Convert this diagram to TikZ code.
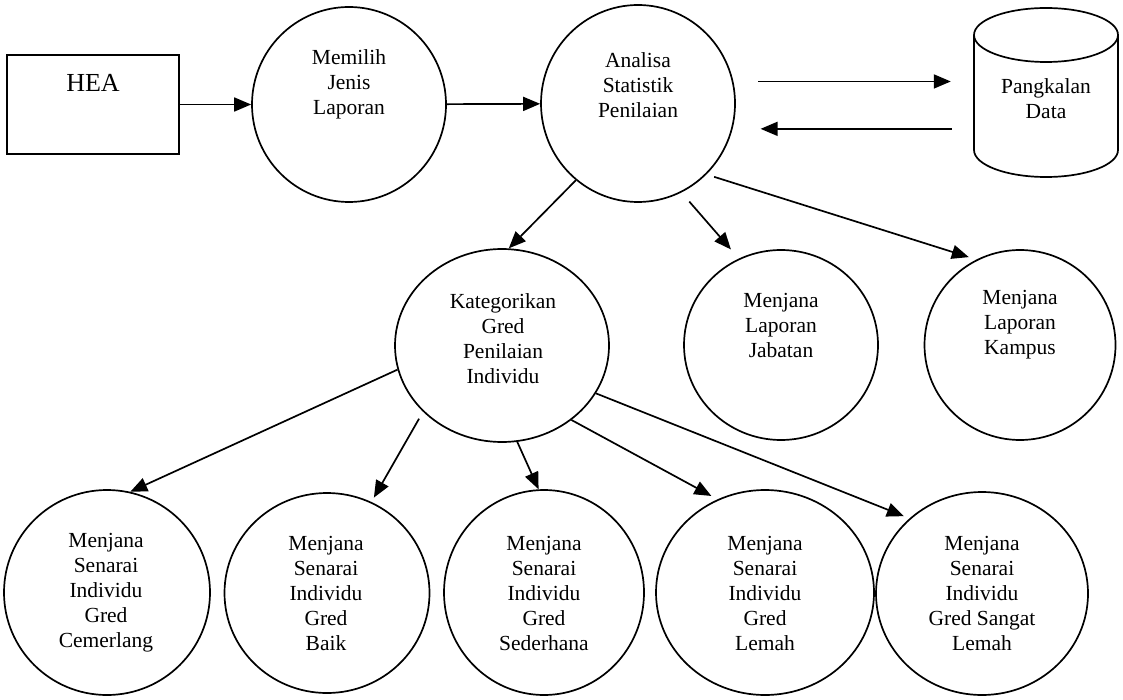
\documentclass[tikz,border=0pt]{standalone}
\usepackage{fontspec}
\setmainfont{Liberation Serif}
\usetikzlibrary{shapes.geometric,arrows.meta}
\begin{document}
\begin{tikzpicture}[x=1pt,y=-1pt,
  line/.style={line width=1.7pt},
  bub/.style={ellipse, draw, line width=1.7pt, inner sep=0pt},
  txt/.style={align=center, inner sep=0pt, font=\fontsize{21.5}{25}\selectfont},
  arr/.style={line width=1.7pt, -{Triangle[length=17pt,width=14pt]}}]
\useasboundingbox (0,0) rectangle (1123,700);

% HEA
\node[draw, line width=1.7pt, minimum width=172pt, minimum height=99pt, inner sep=0pt] (hea) at (93,104.5) {};
\node[inner sep=0pt, font=\fontsize{26}{30}\selectfont] (heat) at (93,83) {HEA};

% top row
\node[bub, minimum width=194pt, minimum height=195pt] (mem) at (349,104.5) {};
\node[txt] (memt) at (349,84.5) {Memilih\\Jenis\\Laporan};
\node[bub, minimum width=194pt, minimum height=197pt] (ana) at (638,103.5) {};
\node[txt] (anat) at (638,85) {Analisa\\Statistik\\Penilaian};

% database cylinder
\draw[line] (974,35) -- (974,150) arc[start angle=180,end angle=360,x radius=72pt,y radius=27pt] -- (1118,35);
\draw[line] (1046,35) ellipse [x radius=72pt, y radius=27pt];
\node[minimum width=144pt, minimum height=169pt, inner sep=0pt] (db) at (1046,92.5) {};
\node[txt] (dbt) at (1046,99) {Pangkalan\\Data};

% middle row
\node[bub, minimum width=214pt, minimum height=193pt] (kat) at (502,345.5) {};
\node[txt] (katt) at (503,338.5) {Kategorikan\\Gred\\Penilaian\\Individu};
\node[bub, minimum width=194pt, minimum height=190pt] (jab) at (781,345) {};
\node[txt] (jabt) at (781,325) {Menjana\\Laporan\\Jabatan};
\node[bub, minimum width=191pt, minimum height=190pt] (kam) at (1020,345) {};
\node[txt] (kamt) at (1020,325) {Menjana\\Laporan\\Kampus};

% bottom row
\node[bub, minimum width=206pt, minimum height=205pt] (cem) at (107,592.5) {};
\node[txt] (cemt) at (106,593) {Menjana\\Senarai\\Individu\\Gred\\Cemerlang};
\node[bub, minimum width=205pt, minimum height=200pt] (bai) at (327,593) {};
\node[txt] (bait) at (326,593) {Menjana\\Senarai\\Individu\\Gred\\Baik};
\node[bub, minimum width=200pt, minimum height=205pt] (sed) at (544,592.5) {};
\node[txt] (sedt) at (544,593) {Menjana\\Senarai\\Individu\\Gred\\Sederhana};
\node[bub, minimum width=218pt, minimum height=205pt] (lem) at (765,592.5) {};
\node[txt] (lemt) at (765,593) {Menjana\\Senarai\\Individu\\Gred\\Lemah};
\node[bub, minimum width=212pt, minimum height=203pt] (san) at (982,593.5) {};
\node[txt] (sant) at (982,593) {Menjana\\Senarai\\Individu\\Gred Sangat\\Lemah};

% connectors
\draw[arr] (hea.east) -- (mem.west);
\draw[arr] (mem) -- (ana);
\draw[arr, shorten <=25pt, shorten >=23pt] (ana.13.4) -- (db.west |- ana.13.4);
\draw[arr, shorten <=22pt, shorten >=28pt] (db.west |- ana.-15.8) -- (ana.-15.8);

\draw[arr] (ana.231) -- (kat.86);
\draw[arr, shorten <=12pt, shorten >=12pt] (ana.-64.5) -- (jab.116.3);
\draw[arr, shorten <=8pt, shorten >=8pt] (ana.-46) -- (kam.117);

\draw[arr] (kat.193) -- (cem.77);
\draw[arr, shorten <=8pt, shorten >=5pt] (kat.220) -- (bai.64);
\draw[arr] (kat.-81) -- (sed.93);
\draw[arr, shorten >=7pt] (kat.-47.5) -- (lem.117);
\draw[arr, shorten >=6pt] (kat.-27) -- (san.134);
\end{tikzpicture}
\end{document}
